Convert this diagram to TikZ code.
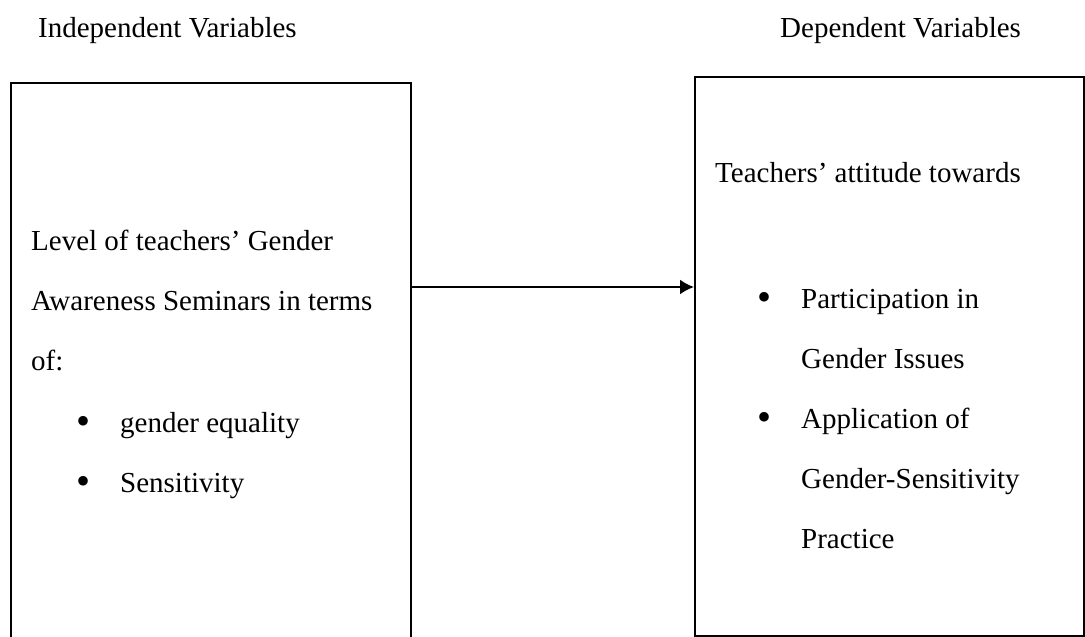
\documentclass[tikz,border=0pt]{standalone}
\usepackage{fontspec}
\setmainfont{Liberation Serif}
\usetikzlibrary{arrows.meta}
\newcommand{\dotmark}{\makebox[44pt][l]{\raisebox{-2.5pt}{\fontsize{40pt}{40pt}\selectfont\textbullet}}}

\begin{document}
\begin{tikzpicture}[x=1pt,y=-1pt]
\tikzset{box/.style = {shape=rectangle,draw,line width=2pt,inner sep=0pt}}
\tikzset{line/.style = {anchor=base west,inner sep=0pt,font=\fontsize{29pt}{35pt}\selectfont}}
\tikzset{edge/.style = {-{Latex[length=14pt,width=15pt]},line width=2pt}}
\useasboundingbox (0,0) rectangle (1085,637);
\clip (0,0) rectangle (1085,637);
% boxes
\node[box,minimum width=400pt,minimum height=562pt] (ivbox) at (211,364) {};
\node[box,minimum width=389pt,minimum height=559pt] (dvbox) at (889.5,356.5) {};
% headings
\node[line] (ivhead) at (38,37) {Independent Variables};
\node[line] (dvhead) at (780,37) {Dependent Variables};
% independent side
\node[line] (iv1) at (31,250) {Level of teachers’ Gender};
\node[line] (iv2) at (31,310) {Awareness Seminars in terms};
\node[line] (iv3) at (31,370) {of:};
\node[line] (iv4) at (76,432) {\dotmark gender equality};
\node[line] (iv5) at (76,492) {\dotmark Sensitivity};
% dependent side
\node[line] (dv1) at (715,182) {Teachers’ attitude towards};
\node[line] (dv2) at (757,308) {\dotmark Participation in};
\node[line] (dv3) at (801,368) {Gender Issues};
\node[line] (dv4) at (757,428) {\dotmark Application of};
\node[line] (dv5) at (801,488) {Gender-Sensitivity};
\node[line] (dv6) at (801,548) {Practice};
%edges
\coordinate (link) at (550,287);
\draw[edge] (ivbox.east |- link) -- (dvbox.west |- link);
\end{tikzpicture}
\end{document}
